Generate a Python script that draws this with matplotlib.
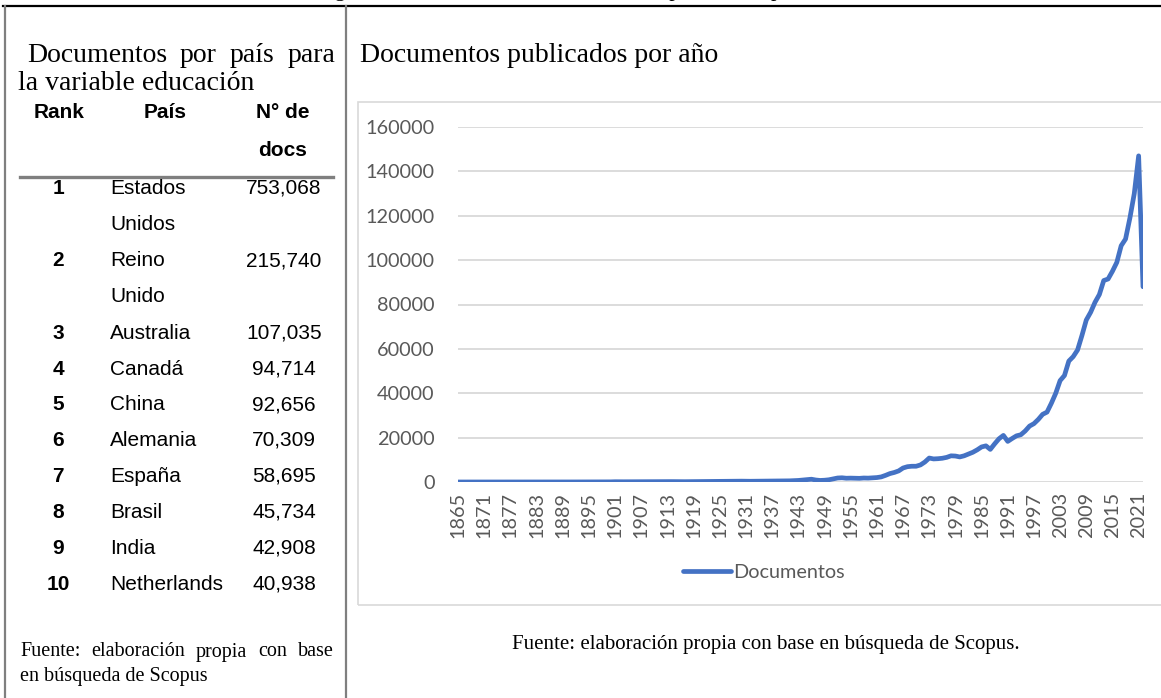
import matplotlib
matplotlib.use('Agg')
import matplotlib.pyplot as plt
import matplotlib.lines as mlines
import matplotlib.patches as mpatches

# table data
ranks = [1, 2, 3, 4, 5, 6, 7, 8, 9, 10]
paises = ["Estados\nUnidos", "Reino\nUnido", "Australia", "Canadá", "China",
          "Alemania", "España", "Brasil", "India", "Netherlands"]
docs = ["753,068", "215,740", "107,035", "94,714", "92,656",
        "70,309", "58,695", "45,734", "42,908", "40,938"]

# documents per year, 1865-2022
years = list(range(1865, 2023))
documentos = [
    2, 1, 3, 2, 4, 3, 5, 4, 6, 5,                                   # 1865
    6, 8, 7, 9, 10, 12, 11, 14, 15, 13,                             # 1875
    16, 18, 20, 19, 22, 25, 24, 28, 30, 32,                         # 1885
    35, 38, 40, 45, 50, 60, 120, 90, 100, 110,                      # 1895
    130, 150, 160, 150, 170, 180, 170, 190, 200, 180,               # 1905
    160, 150, 140, 160, 200, 230, 240, 250, 260, 270,               # 1915
    290, 300, 320, 340, 360, 380, 350, 330, 350, 380,               # 1925
    400, 420, 450, 480, 500, 470, 520, 600, 700, 900,               # 1935
    1100, 1250, 900, 700, 800, 1000, 1400, 1800, 1900, 1700,        # 1945
    1750, 1700, 1650, 1800, 1750, 1900, 2000, 2300, 3000, 3800,     # 1955
    4300, 5000, 6300, 6900, 7100, 7100, 7700, 9000, 10800, 10400,   # 1965
    10500, 10700, 11100, 11800, 11700, 11300, 11800, 12600, 13400, 14500,  # 1975
    15800, 16300, 14700, 17200, 19500, 21000, 18300, 19600, 20800, 21300,  # 1985
    23000, 25200, 26300, 28200, 30500, 31500, 35500, 40000, 45700, 48000,  # 1995
    54500, 56500, 59500, 66000, 73000, 76500, 81000, 84500, 90800, 91500,  # 2005
    95000, 99000, 106500, 109500, 119000, 130000, 147000, 88000,    # 2015
]
xticks = list(range(1865, 2022, 6))
yticks = list(range(0, 160001, 20000))

W, H = 1161, 698
def fx(x):
    return x / W
def fy(y):
    return 1 - y / H

serif = "Liberation Serif"
sans = "Liberation Sans"

fig = plt.figure(figsize=(W / 100, H / 100), dpi=100)
fig.patch.set_facecolor("white")
renderer = fig.canvas.get_renderer()

def justified(text, x0, x1, y, **kw):
    # place words so the line fills x0..x1 (like a justified paragraph line)
    words = text.split(" ")
    arts = [fig.text(0, fy(y), w, va="center", **kw) for w in words]
    widths = [a.get_window_extent(renderer).width for a in arts]
    gap = ((x1 - x0) - sum(widths)) / (len(words) - 1)
    x = x0
    for a, w in zip(arts, widths):
        a.set_x(fx(x))
        x += w + gap

# clipped caption at the very top (only descenders visible)
fig.text(fx(316), fy(-4), "Figura 2. Documentos sobre educación publicados por año",
         family=serif, fontsize=16, ha="left", va="baseline", color="black")

# frame lines
fig.add_artist(mlines.Line2D([fx(3), 1], [fy(5.5), fy(5.5)], color="black", lw=1.6))
fig.add_artist(mlines.Line2D([fx(4.5), fx(4.5)], [fy(6), 0], color="#7f7f7f", lw=1.6))
fig.add_artist(mlines.Line2D([fx(346.5), fx(346.5)], [fy(6), 0], color="#7f7f7f", lw=1.6))

# left panel: table
justified("Documentos por país para", 27, 335, 55, family=serif, fontsize=20)
fig.text(fx(18), fy(84), "la variable educación", family=serif, fontsize=20, va="center")
hdr = dict(family=sans, fontsize=15, weight="bold", ha="center", va="center")
fig.text(fx(59), fy(113), "Rank", **hdr)
fig.text(fx(165), fy(113), "País", **hdr)
fig.text(fx(283), fy(113), "N° de", **hdr)
fig.text(fx(283), fy(150), "docs", **hdr)
fig.add_artist(mlines.Line2D([fx(20), fx(333)], [fy(177), fy(177)], color="#7f7f7f", lw=2.4))

row_y = [188, 261, 333, 369, 405, 440, 476, 512, 548, 584]
for r, p, d, y in zip(ranks, paises, docs, row_y):
    fig.text(fx(58), fy(y), str(r), family=sans, fontsize=15, weight="bold", ha="center", va="center")
    for k, ln in enumerate(p.split("\n")):
        fig.text(fx(110), fy(y + 36 * k), ln, family=sans, fontsize=15, ha="left", va="center")
    fig.text(fx(284), fy(y), d, family=sans, fontsize=15, ha="center", va="center")

justified("Fuente: elaboración propia con base", 20, 334, 652, family=serif, fontsize=14.5)
fig.text(fx(20), fy(677), "en búsqueda de Scopus", family=serif, fontsize=14.5, va="center")

# right panel
fig.text(fx(360), fy(55), "Documentos publicados por año", family=serif, fontsize=20, va="center")
fig.add_artist(mpatches.Rectangle((fx(358), fy(605)), fx(820), fy(102) - fy(605),
                                  fill=False, ec="#d9d9d9", lw=1.2))
fig.text(fx(766), fy(644), "Fuente: elaboración propia con base en búsqueda de Scopus.",
         family=serif, fontsize=15, ha="center", va="center")

ax = fig.add_axes([fx(458), fy(482), fx(1143) - fx(458), fy(127) - fy(482)])
ax.plot(years, documentos, color="#4472C4", lw=3.4, solid_joinstyle="round",
        solid_capstyle="round", label="Documentos")
ax.set_xlim(1865, 2022)
ax.set_ylim(0, 160000)
ax.set_xticks(xticks)
ax.set_xticklabels([str(t) for t in xticks], rotation=90)
ax.set_yticks(yticks)
ax.set_yticklabels([str(t) for t in yticks])
ax.tick_params(length=0, colors="#595959", labelsize=14.3)
ax.tick_params(axis="y", pad=17)
ax.tick_params(axis="x", pad=7)
for lab in ax.get_xticklabels() + ax.get_yticklabels():
    lab.set_family("Lato")
ax.grid(axis="y", color="#d9d9d9", lw=1.3)
ax.set_axisbelow(True)
for s in ax.spines.values():
    s.set_visible(False)

leg = ax.legend(loc="center", bbox_to_anchor=(fx(764), fy(572)), bbox_transform=fig.transFigure,
                frameon=False, handlelength=2.4, handletextpad=0.1,
                prop={"family": "Lato", "size": 14.3})
for t in leg.get_texts():
    t.set_color("#595959")

fig.savefig("out.png", dpi=100)
